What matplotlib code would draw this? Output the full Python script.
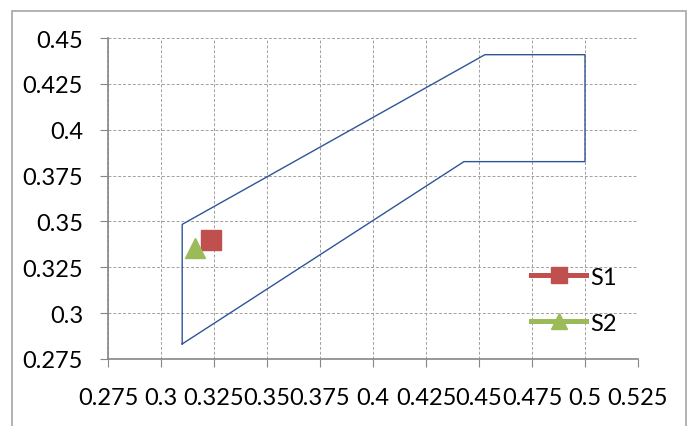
import numpy as np
import matplotlib.pyplot as plt
from matplotlib.patches import Rectangle

plt.rcParams['font.family'] = ['Lato', 'Liberation Sans', 'DejaVu Sans']

# boundary polygon (x, y)
region_x = [0.31, 0.31, 0.4528, 0.5, 0.5, 0.4429, 0.31]
region_y = [0.2832, 0.3484, 0.4409, 0.4409, 0.3826, 0.3826, 0.2832]

s1_x = [0.3236]
s1_y = [0.3401]
s2_x = [0.316]
s2_y = [0.3357]

xticks = [0.275, 0.3, 0.325, 0.35, 0.375, 0.4, 0.425, 0.45, 0.475, 0.5, 0.525]
xlabels = ['0.275', '0.3', '0.325', '0.35', '0.375', '0.4', '0.425', '0.45', '0.475', '0.5', '0.525']
yticks = [0.275, 0.3, 0.325, 0.35, 0.375, 0.4, 0.425, 0.45]
ylabels = ['0.275', '0.3', '0.325', '0.35', '0.375', '0.4', '0.425', '0.45']

fig = plt.figure(figsize=(6.9, 4.27), dpi=100)
ax = fig.add_axes([108/690, 1 - 360/427, (638-108)/690, (360-39)/427])

# outer chart border
fig.patches.append(Rectangle((12/690, -0.01), (686-12)/690, 1 - 12/427 + 0.01,
                             transform=fig.transFigure, fill=False,
                             edgecolor='#a6a6a6', linewidth=1.2))

ax.plot(region_x, region_y, color='#2f5597', linewidth=1.0, zorder=3)
ax.plot(s1_x, s1_y, marker='s', markersize=14.5, color='#c0504d', linewidth=3.6,
        label='S1', zorder=4)
ax.plot(s2_x, s2_y, marker='^', markersize=14.5, color='#9bbb59', linewidth=3.6,
        label='S2', zorder=4)

ax.set_xlim(0.275, 0.525)
ax.set_ylim(0.275, 0.45)
ax.set_xticks(xticks)
ax.set_xticklabels(xlabels)
ax.set_yticks(yticks)
ax.set_yticklabels(ylabels)
ax.tick_params(axis='both', labelsize=17, length=6, color='#868686', direction='out')
ax.tick_params(axis='y', pad=12)
ax.tick_params(axis='x', pad=14)

ax.grid(True, color='#a0a0a0', linestyle=(0, (3, 2)), linewidth=0.7)
ax.set_axisbelow(True)
for side in ['top', 'right']:
    ax.spines[side].set_visible(False)
for side in ['left', 'bottom']:
    ax.spines[side].set_color('#868686')
    ax.spines[side].set_linewidth(1.2)

leg = ax.legend(loc='lower left', bbox_to_anchor=(0.78, 0.05), frameon=False,
                fontsize=17, handlelength=2.35, labelspacing=1.05, handletextpad=0.15,
                markerscale=0.8, borderaxespad=0)

plt.savefig('out.png', dpi=100)
